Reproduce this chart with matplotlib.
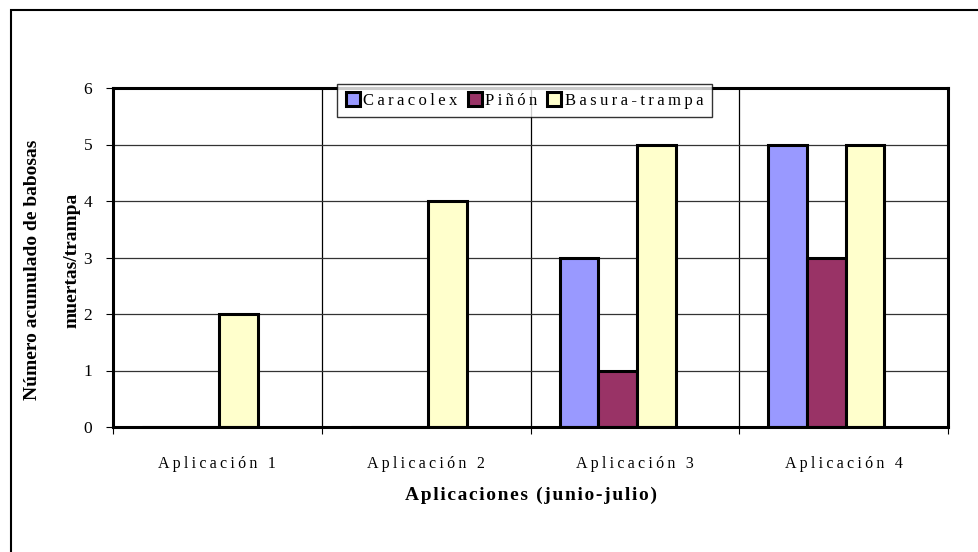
import matplotlib.pyplot as plt
import numpy as np
from matplotlib.patches import Rectangle

# Data
categories = ['Aplicación 1', 'Aplicación 2', 'Aplicación 3', 'Aplicación 4']
series_names = ['Caracolex', 'Piñón', 'Basura-trampa']
caracolex = [0, 0, 3, 5]
pinon = [0, 0, 1, 3]
basura = [2, 4, 5, 5]
y_ticks = [0, 1, 2, 3, 4, 5, 6]

colors = ['#9999FF', '#993366', '#FFFFCC']
serif = ['Liberation Serif', 'DejaVu Serif']


def spaced(s, sep='\u2009'):
    return sep.join(s)


W, H = 979, 552
fig = plt.figure(figsize=(W / 100, H / 100), dpi=100)

# outer frame (only top and left edges show in the reference)
fig.patches.append(Rectangle((11 / W, -0.1), 1.2, 1 - 10 / H + 0.1,
                             transform=fig.transFigure, fill=False,
                             edgecolor='black', linewidth=1.5))

left, right, top, bottom = 113, 948, 88, 427
ax = fig.add_axes([left / W, 1 - bottom / H, (right - left) / W, (bottom - top) / H])

x = np.arange(len(categories))
bw = 0.185
offsets = [-0.2675, -0.0825, 0.1025]
for vals, off, col, name in zip([caracolex, pinon, basura], offsets, colors, series_names):
    ax.bar(x + off, vals, width=bw, color=col, edgecolor='black', linewidth=2.2,
           label=spaced(name), zorder=3)

ax.set_xlim(-0.5, len(categories) - 0.5)
ax.set_ylim(0, 6)
ax.set_yticks(y_ticks)
ax.set_yticklabels([str(v) for v in y_ticks], family=serif, fontsize=12.5)
ax.set_xticks(x)
ax.set_xticklabels([spaced(c) for c in categories], family=serif, fontsize=11.5)
ax.set_xticks(np.arange(-0.5, len(categories)), minor=True)
ax.tick_params(axis='x', which='major', length=0, pad=21)
ax.tick_params(axis='x', which='minor', length=5, width=0.8, direction='out')
ax.tick_params(axis='y', length=5, width=0.8, direction='out', pad=10)

ax.yaxis.grid(True, color='#333333', linewidth=0.9, zorder=0)
for b in np.arange(0.5, len(categories) - 0.5):
    ax.axvline(b, color='black', linewidth=0.9, zorder=1)
for s in ax.spines.values():
    s.set_linewidth(2.2)
    s.set_zorder(4)

# y label, two lines placed as in the reference
fig.text(33 / W, 1 - 270 / H, 'Número acumulado de babosas', family=serif,
         fontweight='bold', fontsize=14, rotation=90, ha='center', va='center')
fig.text(72 / W, 1 - 260 / H, 'muertas/trampa', family=serif,
         fontweight='bold', fontsize=14, rotation=90, ha='center', va='center')

fig.text(531 / W, 1 - 495 / H, spaced('Aplicaciones (junio-julio)', '\u200a'), family=serif,
         fontweight='bold', fontsize=14, ha='center', va='center')

leg = ax.legend(loc='upper center', ncol=3,
                prop={'family': serif, 'size': 12}, frameon=True, fancybox=False,
                edgecolor='black', handlelength=0.85, handleheight=0.85,
                handletextpad=0.2, columnspacing=0.6, borderpad=0.5,
                borderaxespad=0)
leg.get_frame().set_linewidth(1.0)
leg.set_zorder(5)
leg.set_bbox_to_anchor((524.5 / W, 1 - 84 / H), transform=fig.transFigure)

fig.savefig('out.png', dpi=100)
